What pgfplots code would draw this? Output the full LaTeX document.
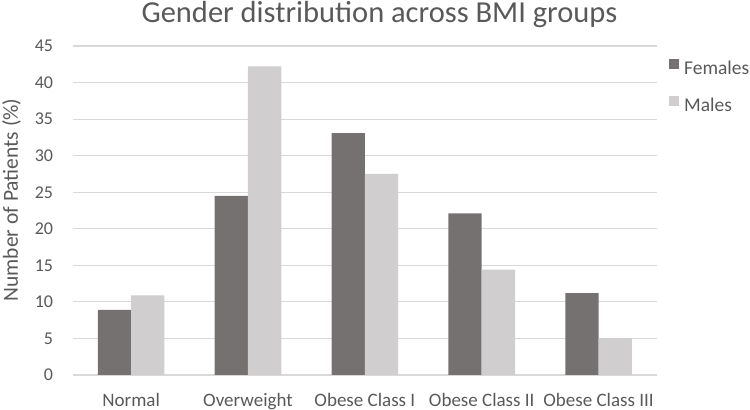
\documentclass[border=0pt]{standalone}
\usepackage{pgfplots}
\pgfplotsset{compat=1.18}
\usepackage{fontspec}
\setmainfont{Carlito}
\definecolor{fem}{HTML}{767171}
\definecolor{mal}{HTML}{D0CECE}
\definecolor{gridc}{HTML}{D9D9D9}
\definecolor{txt}{HTML}{595959}
\begin{document}
\begin{tikzpicture}
\useasboundingbox (0,0) rectangle (750bp,410bp);
\begin{axis}[
  at={(72.7bp,35bp)}, anchor=south west,
  scale only axis, width=584.3bp, height=329bp,
  xmin=-0.5, xmax=4.5, ymin=0, ymax=45,
  ybar=0pt, bar width=0.285,
  xtick={0,1,2,3,4},
  xticklabels={Normal,Overweight,Obese Class I,Obese Class II,Obese Class III},
  ytick={0,5,...,45},
  ymajorgrids, major grid style={gridc, line width=1.2bp},
  axis line style={draw=none},
  major tick length=0pt,
  /pgf/number format/assume math mode=true,
  xticklabel style={font=\fontsize{19bp}{22bp}\selectfont, text=txt, anchor=base, yshift=-31.7bp, inner sep=0pt},
  yticklabel style={font=\fontsize{18bp}{21bp}\selectfont, text=txt, anchor=east, xshift=-19.5bp, inner sep=0pt},
  ylabel={Number of Patients (\%)},
  every axis y label/.style={at={(axis description cs:-0.094,0.532)}, rotate=90, anchor=base,
     font=\fontsize{21.5bp}{24bp}\selectfont, text=txt, inner sep=0pt},
  title={Gender distribution across BMI groups},
  every axis title/.style={at={(axis description cs:0.525,1.07)}, anchor=base,
     font=\fontsize{30.5bp}{34bp}\selectfont, text=txt, inner sep=0pt},
  legend style={draw=none, fill=none, at={(rel axis cs:1.0205,0.9596)}, anchor=north west,
    font=\fontsize{19.5bp}{22bp}\selectfont, text=txt, row sep=22bp, column sep=5bp, inner sep=0pt,
    nodes={inner sep=0pt, text height=10bp, text depth=0bp}},
  legend cell align=left,
  legend image code/.code={\fill[#1] (0bp,0bp) rectangle (10bp,10bp);},
]
\addplot[fill=fem, draw=none] coordinates {(0,8.9) (1,24.5) (2,33.1) (3,22.1) (4,11.2)};
\addplot[fill=mal, draw=none] coordinates {(0,10.9) (1,42.2) (2,27.5) (3,14.4) (4,5.0)};
\legend{Females,Males}
\end{axis}
\end{tikzpicture}
\end{document}
